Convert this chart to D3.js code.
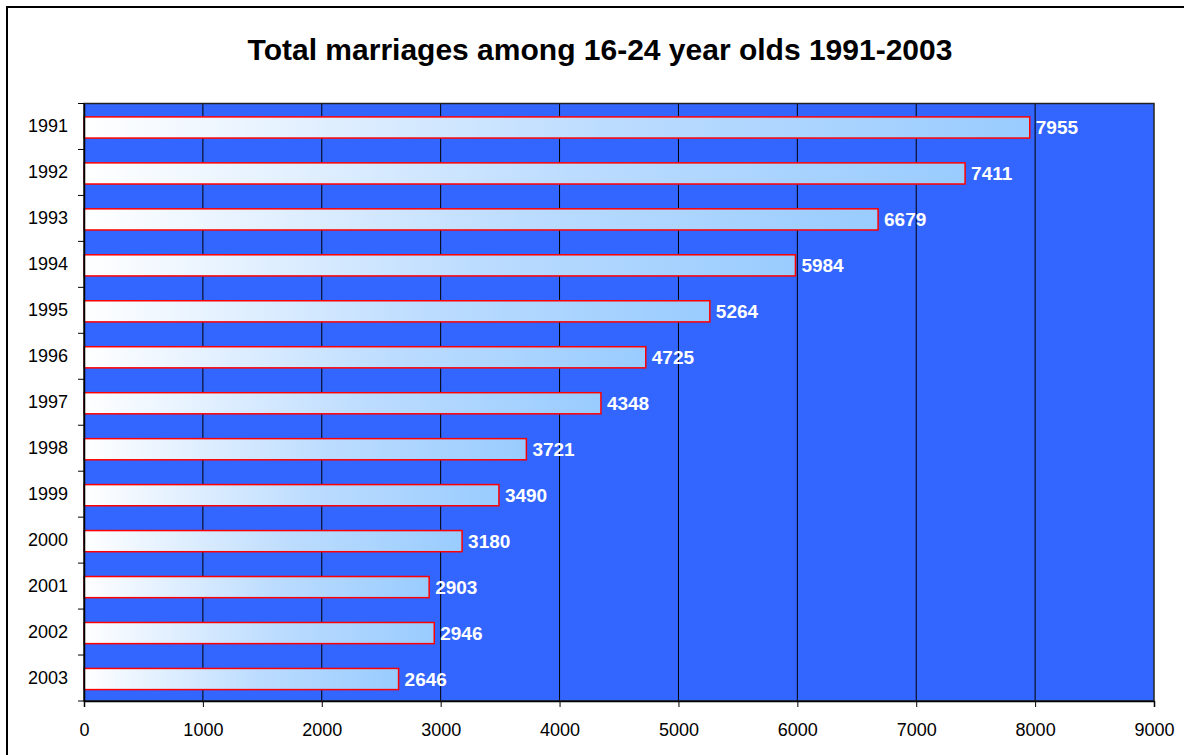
<!DOCTYPE html>
<html>
<head>
<meta charset="utf-8">
<script src="https://cdn.jsdelivr.net/npm/d3@7"></script>
<style>
  body { margin: 0; background: #fff; }
  svg { display: block; font-family: "Liberation Sans", Arial, sans-serif; }
</style>
</head>
<body>
<div id="chart"></div>
<script>
const years = ['1991', '1992', '1993', '1994', '1995', '1996', '1997', '1998', '1999', '2000', '2001', '2002', '2003'];
const marriages = [7955, 7411, 6679, 5984, 5264, 4725, 4348, 3721, 3490, 3180, 2903, 2946, 2646];
const xTicks = [0, 1000, 2000, 3000, 4000, 5000, 6000, 7000, 8000, 9000];

const width = 1184, height = 755;
const margin = { top: 103.5, left: 84 };
const innerW = 1154 - margin.left;
const innerH = 701 - margin.top;

const svg = d3.select('#chart').append('svg')
  .attr('width', width)
  .attr('height', height);

// outer chart frame (runs off the right and bottom edge)
svg.append('rect')
  .attr('x', 7).attr('y', 7)
  .attr('width', width + 10).attr('height', height + 10)
  .attr('fill', '#fff')
  .attr('stroke', '#000')
  .attr('stroke-width', 2);

svg.append('text')
  .attr('x', 600).attr('y', 60)
  .attr('text-anchor', 'middle')
  .style('font-size', '30px')
  .style('font-weight', 'bold')
  .text('Total marriages among 16-24 year olds 1991-2003');

const defs = svg.append('defs');
const grad = defs.append('linearGradient')
  .attr('id', 'barGrad')
  .attr('x1', '0%').attr('x2', '100%')
  .attr('y1', '0%').attr('y2', '0%');
grad.append('stop').attr('offset', '0%').attr('stop-color', '#ffffff');
grad.append('stop').attr('offset', '55%').attr('stop-color', '#bcdcff');
grad.append('stop').attr('offset', '100%').attr('stop-color', '#99ccff');

const g = svg.append('g')
  .attr('transform', `translate(${margin.left},${margin.top})`);

const x = d3.scaleLinear().domain([0, 9000]).range([0, innerW]);
const y = d3.scaleBand().domain(years).range([0, innerH]).paddingInner(0.54).paddingOuter(0.27);

g.append('rect')
  .attr('width', innerW).attr('height', innerH)
  .attr('fill', '#3366ff');

// vertical gridlines
g.selectAll('.grid')
  .data(xTicks.slice(1, -1))
  .enter().append('line')
  .attr('class', 'grid')
  .attr('x1', d => x(d)).attr('x2', d => x(d))
  .attr('y1', 0).attr('y2', innerH)
  .attr('stroke', '#000')
  .attr('stroke-width', 1);

g.selectAll('.bar')
  .data(marriages)
  .enter().append('rect')
  .attr('class', 'bar')
  .attr('x', 0)
  .attr('y', (d, i) => y(years[i]) + 1)
  .attr('width', d => x(d))
  .attr('height', y.bandwidth())
  .attr('fill', 'url(#barGrad)')
  .attr('stroke', '#ff0000')
  .attr('stroke-width', 1.5);

g.selectAll('.val')
  .data(marriages)
  .enter().append('text')
  .attr('class', 'val')
  .attr('x', d => x(d) + 6)
  .attr('y', (d, i) => y(years[i]) + 1 + y.bandwidth() / 2)
  .attr('dy', '0.36em')
  .attr('fill', '#fff')
  .style('font-size', '19px')
  .style('font-weight', 'bold')
  .text(d => d);

g.append('rect')
  .attr('width', innerW).attr('height', innerH)
  .attr('fill', 'none')
  .attr('stroke', '#222')
  .attr('stroke-width', 1.5);

// axes
const xAxis = g.append('g')
  .attr('transform', `translate(0,${innerH})`)
  .call(d3.axisBottom(x).tickValues(xTicks).tickSize(6).tickPadding(16).tickFormat(d3.format('d')));
xAxis.select('.domain').attr('stroke', '#000').attr('stroke-width', 1.5);
xAxis.selectAll('text').style('font-size', '18px').attr('fill', '#000');

const yAxis = g.append('g')
  .call(d3.axisLeft(y).tickSize(0).tickPadding(16));
yAxis.select('.domain').attr('stroke', '#000').attr('stroke-width', 1.5);
yAxis.selectAll('text').style('font-size', '18px').attr('fill', '#000');

// y tick marks at band boundaries
const step = innerH / years.length;
g.selectAll('.ytick')
  .data(d3.range(years.length + 1))
  .enter().append('line')
  .attr('class', 'ytick')
  .attr('x1', -6).attr('x2', 0)
  .attr('y1', d => d * step).attr('y2', d => d * step)
  .attr('stroke', '#000');
</script>
</body>
</html>
